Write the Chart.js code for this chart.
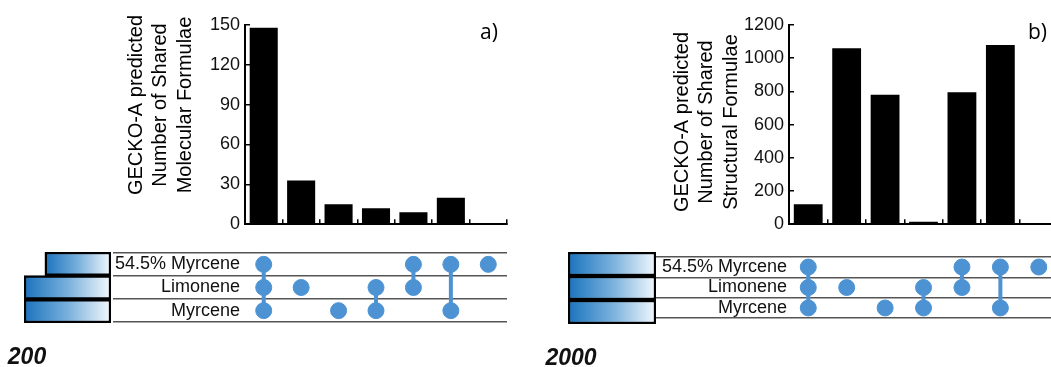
<!DOCTYPE html>
<html>
<head>
<meta charset="utf-8">
<script src="https://cdn.jsdelivr.net/npm/chart.js@4.4.1/dist/chart.umd.min.js"></script>
<style>
  html, body { margin: 0; padding: 0; background: #fff; overflow: hidden; width: 1051px; height: 367px; }
  canvas { position: absolute; }
</style>
</head>
<body>
<canvas id="barsA" width="530" height="245" style="left:0px;top:0px"></canvas>
<canvas id="matA" width="530" height="95" style="left:0px;top:240px"></canvas>
<canvas id="setsA" width="120" height="127" style="left:0px;top:240px"></canvas>
<canvas id="barsB" width="540" height="245" style="left:530px;top:0px"></canvas>
<canvas id="matB" width="540" height="95" style="left:530px;top:240px"></canvas>
<canvas id="setsB" width="135" height="127" style="left:530px;top:240px"></canvas>
<script>
// data
const setNames = ["54.5% Myrcene", "Limonene", "Myrcene"];
// which sets take part in each intersection column (index into setNames)
const combos = [[0, 1, 2], [1], [2], [1, 2], [0, 1], [0, 2], [0]];
const sharedMolecular = [148, 33, 15, 12, 9, 20, 0];
const sharedStructural = [120, 1060, 780, 15, 795, 1080, 0];
const yTicksA = [0, 30, 60, 90, 120, 150];
const yTicksB = [0, 200, 400, 600, 800, 1000, 1200];
const setSizesA = [152, 200, 200];
const setSizesB = [2000, 2000, 2000];
const setMaxA = 200;
const setMaxB = 2000;
const titleA = ["GECKO-A predicted", "Number of Shared", "Molecular Formulae"];
const titleB = ["GECKO-A predicted", "Number of Shared", "Structural Formulae"];

const FONT = 'Arial, "Liberation Sans", sans-serif';
const DOT = "#4d93d3";
Chart.defaults.font.family = FONT;
Chart.defaults.color = "#000";
Chart.defaults.animation = false;

const comboLabels = combos.map(c => c.map(i => setNames[i]).join(" & "));

// rotated multi-line axis title plus the panel letter
const sideTitle = {
  id: "sideTitle",
  afterDraw(chart, args, opts) {
    if (!opts.lines) return;
    const ctx = chart.ctx;
    ctx.save();
    ctx.fillStyle = "#000";
    ctx.font = "20px " + FONT;
    ctx.textAlign = "center";
    ctx.textBaseline = "middle";
    opts.lines.forEach((t, i) => {
      ctx.save();
      ctx.translate(opts.x + i * opts.lineHeight, opts.y);
      ctx.rotate(-Math.PI / 2);
      ctx.fillText(t, 0, 0);
      ctx.restore();
    });
    ctx.font = '21px "Open Sans", sans-serif';
    ctx.textAlign = "left";
    ctx.fillText(opts.tag, opts.tagX, opts.tagY);
    ctx.restore();
  }
};

function makeBars(id, values, ticks, g, lines, tag) {
  const step = ticks[1] - ticks[0];
  return new Chart(document.getElementById(id), {
    type: "bar",
    data: {
      labels: comboLabels,
      datasets: [{
        data: values,
        backgroundColor: "#000",
        barPercentage: 0.75,
        categoryPercentage: 1
      }]
    },
    plugins: [sideTitle],
    options: {
      responsive: false,
      layout: { padding: { left: 0, top: g.top, right: g.padRight, bottom: 0 } },
      plugins: {
        legend: { display: false },
        tooltip: { enabled: false },
        sideTitle: { lines, x: g.titleX, y: g.titleY, lineHeight: 24.5, tag, tagX: g.tagX, tagY: 33 }
      },
      scales: {
        x: {
          grid: { offset: true, drawOnChartArea: false, tickLength: -5, color: "#000", lineWidth: 1.5 },
          border: { display: true, color: "#000", width: 2 },
          ticks: { display: false },
          afterFit: s => { s.height = 16; }
        },
        y: {
          min: ticks[0],
          max: ticks[ticks.length - 1],
          ticks: { stepSize: step, font: { size: 18 }, padding: 10, color: "#111", callback: v => String(v) },
          grid: { drawOnChartArea: false, tickLength: -5, color: "#000", lineWidth: 1.5 },
          border: { display: true, color: "#000", width: 2 },
          afterFit: s => { s.width = g.axisX; }
        }
      }
    }
  });
}

function makeMatrix(id, g) {
  const dots = [];
  const links = [];
  combos.forEach((c, col) => {
    c.forEach(r => dots.push({ x: col, y: setNames[r] }));
    if (c.length > 1) {
      links.push({
        type: "line",
        data: [{ x: col, y: setNames[c[0]] }, { x: col, y: setNames[c[c.length - 1]] }],
        borderColor: DOT,
        borderWidth: 4,
        pointRadius: 0,
        showLine: true,
        order: 1
      });
    }
  });
  return new Chart(document.getElementById(id), {
    type: "scatter",
    data: {
      datasets: [{
        data: dots,
        backgroundColor: DOT,
        borderColor: DOT,
        pointRadius: 8,
        pointHoverRadius: 8,
        order: 0
      }].concat(links)
    },
    options: {
      responsive: false,
      layout: { padding: { left: g.gridLeft, top: 12, right: g.padRight, bottom: g.padBottom } },
      plugins: { legend: { display: false }, tooltip: { enabled: false } },
      scales: {
        x: { type: "linear", display: false, min: -0.5 - (g.axisX - g.gridLeft) / g.catW, max: 6.5 },
        y: {
          type: "category",
          labels: setNames,
          offset: true,
          grid: { offset: true, drawTicks: false, color: "#555", lineWidth: 1.5 },
          border: { display: false },
          ticks: {
            autoSkip: false, mirror: true, crossAlign: "far", padding: g.labelPad,
            font: { size: 18 }, color: "#111"
          },
          afterFit: s => { s.width = 0; }
        }
      }
    }
  });
}

function makeSets(id, sizes, maxVal, g) {
  return new Chart(document.getElementById(id), {
    type: "bar",
    data: {
      labels: setNames,
      datasets: [{
        data: sizes,
        borderColor: "#000",
        borderWidth: 2.5,
        borderSkipped: false,
        barPercentage: 1,
        categoryPercentage: 1,
        backgroundColor: ctx => {
          const chart = ctx.chart;
          if (!chart.chartArea || ctx.type !== "data") return "#4d93d3";
          const xs = chart.scales.x;
          const a = xs.getPixelForValue(ctx.raw);
          const b = xs.getPixelForValue(0);
          const grad = chart.ctx.createLinearGradient(Math.min(a, b), 0, Math.max(a, b), 0);
          grad.addColorStop(0, "#1a73bd");
          grad.addColorStop(0.5, "#78b0dc");
          grad.addColorStop(1, "#f3f8fc");
          return grad;
        }
      }]
    },
    options: {
      indexAxis: "y",
      responsive: false,
      layout: { padding: { left: g.left, top: 12, right: g.padRight, bottom: 0 } },
      plugins: { legend: { display: false }, tooltip: { enabled: false } },
      scales: {
        x: {
          type: "linear",
          reverse: true,
          min: 0,
          max: maxVal,
          grid: { display: false },
          border: { display: false },
          ticks: {
            font: { size: 23, weight: "bold", style: "italic" }, padding: 13, labelOffset: 3,
            color: "#111", callback: v => String(v)
          },
          afterBuildTicks: s => { s.ticks = [{ value: maxVal }]; },
          afterFit: s => { s.height = g.axisH; s.paddingLeft = 0; s.paddingRight = 0; }
        },
        y: { display: false }
      }
    }
  });
}

makeBars("barsA", sharedMolecular, yTicksA,
  { top: 25, padRight: 23, axisX: 245, titleX: 136, titleY: 105, tagX: 480 }, titleA, "a)");
makeMatrix("matA", { gridLeft: 113, padRight: 23, padBottom: 12, axisX: 245, catW: (507 - 245) / 7, labelPad: 2 });
makeSets("setsA", setSizesA, setMaxA, { left: 24, padRight: 9, axisH: 44 });

makeBars("barsB", sharedStructural, yTicksB,
  { top: 25, padRight: 12, axisX: 259, titleX: 152, titleY: 122, tagX: 498 }, titleB, "b)");
makeMatrix("matB", { gridLeft: 126, padRight: 12, padBottom: 11, axisX: 259, catW: 38.4, labelPad: 6 });
makeSets("setsB", setSizesB, setMaxB, { left: 38, padRight: 9, axisH: 43 });
</script>
</body>
</html>
